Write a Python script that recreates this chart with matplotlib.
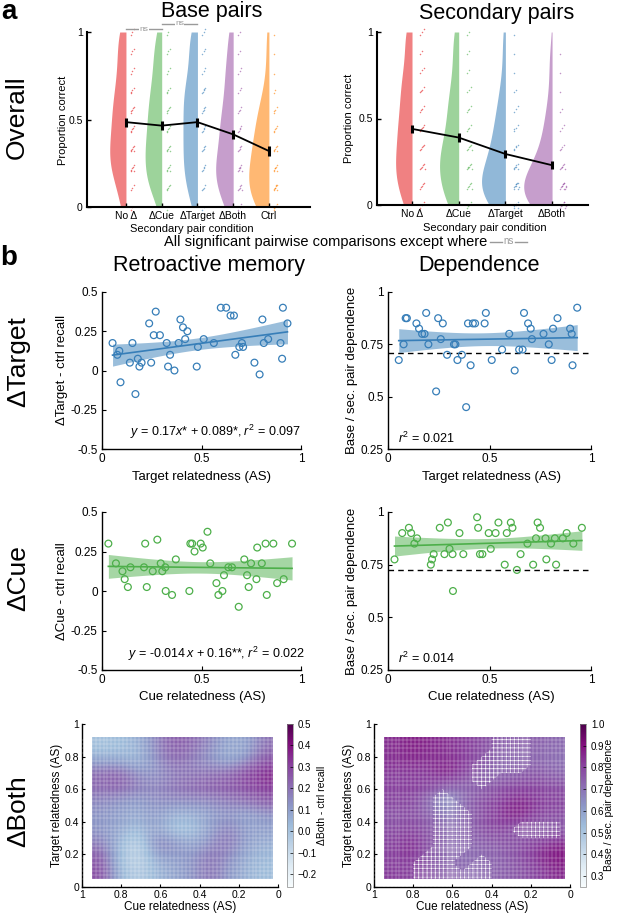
import numpy as np
import matplotlib
matplotlib.use("Agg")
import matplotlib.pyplot as plt
from matplotlib.lines import Line2D

plt.rcParams['font.family'] = ['Liberation Sans', 'DejaVu Sans']
plt.rcParams['mathtext.fontset'] = 'custom'
plt.rcParams['mathtext.rm'] = 'Liberation Sans'
plt.rcParams['mathtext.it'] = 'Liberation Sans:italic'
plt.rcParams['hatch.color'] = 'white'
plt.rcParams['hatch.linewidth'] = 0.4
plt.rcParams['xtick.direction'] = 'in'
plt.rcParams['ytick.direction'] = 'in'

# ---------------- datos panel a ----------------
# niveles de puntaje (novenos) y cantidad de sujetos en cada nivel
niveles = np.arange(10) / 9
base_cond = ['No Δ', 'ΔCue', 'ΔTarget', 'ΔBoth', 'Ctrl']
base_conteos = [[2, 3, 6, 6, 5, 5, 4, 3, 3, 3],
                [1, 5, 6, 6, 5, 5, 4, 3, 3, 2],
                [2, 4, 5, 5, 5, 5, 5, 3, 3, 3],
                [3, 6, 7, 5, 5, 4, 3, 3, 2, 2],
                [5, 8, 7, 6, 5, 4, 2, 1, 1, 1]]
base_media = [0.485, 0.465, 0.485, 0.415, 0.32]
base_sem = [0.026, 0.024, 0.026, 0.025, 0.026]

sec_cond = ['No Δ', 'ΔCue', 'ΔTarget', 'ΔBoth']
sec_conteos = [[3, 5, 6, 5, 5, 4, 4, 3, 2, 3],
               [4, 6, 7, 6, 4, 4, 3, 2, 2, 2],
               [6, 10, 7, 5, 4, 3, 2, 1, 1, 1],
               [9, 12, 7, 4, 3, 2, 1, 1, 1, 0]]
sec_media = [0.44, 0.39, 0.295, 0.23]
sec_sem = [0.025, 0.025, 0.024, 0.024]

colores = ['#e41a1c', '#4daf4a', '#377eb8', '#984ea3', '#ff7f00']

# ---------------- datos panel b ----------------
target_rel = [0.053, 0.077, 0.087, 0.093, 0.140, 0.153, 0.168, 0.180, 0.188, 0.199,
              0.237, 0.247, 0.260, 0.270, 0.291, 0.325, 0.332, 0.342, 0.364, 0.385,
              0.394, 0.407, 0.418, 0.429, 0.476, 0.482, 0.511, 0.562, 0.597, 0.624,
              0.646, 0.663, 0.670, 0.690, 0.703, 0.709, 0.766, 0.792, 0.806, 0.813,
              0.835, 0.897, 0.905, 0.909, 0.932]
tgt_recall = [0.175, 0.10, 0.125, -0.075, 0.05, 0.175, -0.15, 0.075, 0.025, 0.05,
              0.30, 0.05, 0.225, 0.375, 0.225, 0.175, 0.025, 0.10, 0.0, 0.175,
              0.325, 0.275, 0.20, 0.25, 0.025, 0.15, 0.20, 0.175, 0.40, 0.40,
              0.35, 0.35, 0.10, 0.15, 0.175, 0.15, 0.05, -0.025, 0.325, 0.175,
              0.20, 0.175, 0.075, 0.40, 0.30]
tgt_dep = [0.675, 0.75, 0.875, 0.875, 0.85, 0.825, 0.80, 0.80, 0.90, 0.75,
           0.525, 0.875, 0.775, 0.85, 0.70, 0.75, 0.75, 0.675, 0.70, 0.45,
           0.85, 0.65, 0.85, 0.85, 0.85, 0.90, 0.675, 0.725, 0.80, 0.625,
           0.725, 0.725, 0.90, 0.85, 0.825, 0.775, 0.80, 0.75, 0.675, 0.825,
           0.875, 0.825, 0.80, 0.65, 0.925]

cue_rel = [0.032, 0.070, 0.103, 0.114, 0.130, 0.143, 0.211, 0.217, 0.225, 0.255,
           0.278, 0.295, 0.303, 0.318, 0.320, 0.352, 0.371, 0.439, 0.444, 0.453,
           0.465, 0.496, 0.506, 0.530, 0.544, 0.575, 0.585, 0.605, 0.613, 0.635,
           0.653, 0.687, 0.715, 0.729, 0.737, 0.749, 0.776, 0.780, 0.803, 0.822,
           0.828, 0.861, 0.880, 0.913, 0.955]
cue_recall = [0.30, 0.175, 0.125, 0.075, 0.025, 0.15, 0.15, 0.30, 0.025, 0.125,
              0.325, 0.175, 0.125, 0.15, 0.0, -0.025, 0.20, 0.0, 0.30, 0.30,
              0.25, 0.30, 0.275, 0.375, 0.175, 0.05, -0.025, 0.0, 0.10, 0.15,
              0.15, -0.10, 0.20, 0.10, 0.025, 0.175, 0.075, 0.275, 0.175, 0.30,
              -0.025, 0.30, 0.05, 0.075, 0.30]
cue_dep = [0.775, 0.90, 0.925, 0.90, 0.85, 0.875, 0.75, 0.775, 0.80, 0.925,
           0.80, 0.95, 0.825, 0.80, 0.625, 0.90, 0.80, 0.975, 0.925, 0.80,
           0.80, 0.90, 0.825, 0.90, 0.95, 0.75, 0.90, 0.95, 0.925, 0.725,
           0.80, 0.85, 0.75, 0.875, 0.95, 0.925, 0.875, 0.775, 0.85, 0.875,
           0.75, 0.875, 0.90, 0.85, 0.925]
dep_base = [0.71, 0.725]  # linea punteada (dependencia esperada)

# ---------------- datos mapas ΔBoth ----------------
mapa_cue = [0.05, 0.15, 0.25, 0.35, 0.45, 0.55, 0.65, 0.75, 0.85, 0.95]
mapa_tgt = [0.05, 0.15, 0.25, 0.35, 0.45, 0.55, 0.65, 0.75, 0.85, 0.92]
both_recall = [
    [0.02, 0.05, 0.12, 0.20, 0.12, 0.08, 0.04, -0.05, 0.05, 0.28],
    [0.03, 0.06, 0.15, 0.20, 0.12, 0.10, 0.08, -0.10, 0.02, 0.26],
    [0.06, 0.10, 0.20, 0.15, 0.08, 0.15, 0.18, -0.08, 0.05, 0.18],
    [0.10, 0.10, 0.18, 0.10, 0.00, 0.00, 0.10, 0.02, 0.08, 0.12],
    [0.12, 0.08, 0.12, 0.10, 0.05, 0.05, 0.12, 0.06, 0.10, 0.12],
    [0.25, 0.20, 0.18, 0.15, 0.15, 0.15, 0.14, 0.10, 0.12, 0.15],
    [0.32, 0.28, 0.26, 0.25, 0.22, 0.20, 0.16, 0.18, 0.24, 0.22],
    [0.36, 0.30, 0.22, 0.20, 0.18, 0.18, 0.12, 0.14, 0.24, 0.22],
    [0.25, 0.10, 0.05, 0.12, 0.18, 0.22, 0.14, 0.02, 0.05, 0.06],
    [0.20, 0.08, 0.08, 0.16, 0.22, 0.25, 0.16, 0.05, 0.02, 0.00]]
both_dep = [
    [0.85, 0.80, 0.76, 0.74, 0.72, 0.72, 0.74, 0.76, 0.80, 0.82],
    [0.90, 0.84, 0.78, 0.74, 0.72, 0.70, 0.72, 0.74, 0.84, 0.80],
    [0.86, 0.82, 0.78, 0.76, 0.74, 0.72, 0.72, 0.76, 0.86, 0.80],
    [0.74, 0.72, 0.74, 0.80, 0.78, 0.72, 0.70, 0.76, 0.80, 0.78],
    [0.78, 0.80, 0.88, 0.84, 0.78, 0.72, 0.68, 0.74, 0.78, 0.76],
    [0.80, 0.82, 0.86, 0.82, 0.78, 0.74, 0.58, 0.70, 0.80, 0.80],
    [0.78, 0.80, 0.80, 0.78, 0.74, 0.72, 0.74, 0.80, 0.82, 0.80],
    [0.72, 0.76, 0.74, 0.72, 0.72, 0.80, 0.88, 0.82, 0.82, 0.82],
    [0.70, 0.72, 0.72, 0.72, 0.76, 0.82, 0.84, 0.84, 0.86, 0.84],
    [0.72, 0.74, 0.74, 0.74, 0.78, 0.82, 0.84, 0.86, 0.88, 0.84]]
# 1 = zona no significativa (rayada)
both_ns = [
    [0, 0, 0, 0, 1, 1, 1, 1, 0, 0],
    [0, 0, 0, 0, 1, 0, 1, 1, 0, 0],
    [0, 0, 0, 0, 0, 1, 1, 0, 0, 0],
    [1, 1, 1, 0, 0, 1, 1, 0, 0, 0],
    [0, 0, 0, 0, 0, 1, 1, 0, 0, 0],
    [0, 0, 0, 0, 0, 0, 1, 0, 0, 0],
    [0, 0, 0, 0, 1, 0, 0, 0, 0, 0],
    [0, 0, 1, 1, 1, 0, 0, 0, 0, 0],
    [0, 0, 1, 1, 0, 0, 0, 0, 0, 0],
    [0, 0, 1, 1, 0, 0, 0, 0, 0, 0]]

W, H = 617, 916
fig = plt.figure(figsize=(W / 100, H / 100), dpi=100)


def caja(x0, y0, x1, y1):
    """ rectangulo en pixeles -> fraccion de figura """
    return [x0 / W, 1 - y1 / H, (x1 - x0) / W, (y1 - y0) / H]


def texto(px, py, s, **kw):
    kw.setdefault('ha', 'center')
    kw.setdefault('va', 'center')
    return fig.text(px / W, 1 - py / H, s, **kw)


def estilo(ax, lw=1.0):
    for lado in ['top', 'right']:
        ax.spines[lado].set_visible(False)
    for lado in ['left', 'bottom']:
        ax.spines[lado].set_linewidth(lw)


def violines(ax, nombres, conteos, medias, sems, escala, dx):
    yy = np.linspace(0, 1, 201)
    bw = 0.1
    for i, c in enumerate(conteos):
        pos = i + 1
        dens = np.zeros_like(yy)
        for nivel, n in zip(niveles, c):
            dens += n * np.exp(-0.5 * ((yy - nivel) / bw) ** 2)
        dens /= sum(c) * bw * np.sqrt(2 * np.pi)
        ax.fill_betweenx(yy, pos - escala * dens, pos, color=colores[i],
                         alpha=0.55, lw=0)
        # puntos de cada sujeto a la derecha
        px, py = [], []
        for nivel, n in zip(niveles, c):
            for j in range(n):
                px.append(pos + dx + 0.04 * (j % 3) + 0.015 * (j // 3))
                py.append(nivel + 0.008 * ((j * 7) % 5 - 2))
        ax.plot(px, py, '.', color=colores[i], ms=2.2, mew=0, alpha=0.6,
                clip_on=False)
    pos = np.arange(1, len(conteos) + 1)
    ax.errorbar(pos, medias, yerr=sems, color='k', lw=1.3, elinewidth=2.2,
                capsize=0, zorder=5)
    ax.set_xticks(pos)
    ax.set_xticklabels(nombres, fontsize=7.5)
    ax.set_ylim(0, 1)
    ax.set_yticks([0, 0.5, 1])
    ax.set_yticklabels(['0', '0.5', '1'], fontsize=7.5)
    ax.tick_params(length=3, width=1, pad=3)
    estilo(ax, 1.5)


def banda(x, y):
    n = len(x)
    b, a = np.polyfit(x, y, 1)
    xs = np.linspace(x.min(), x.max(), 60)
    yhat = a + b * xs
    s = np.sqrt(np.sum((y - (a + b * x)) ** 2) / (n - 2))
    se = s * np.sqrt(1 / n + (xs - x.mean()) ** 2 / np.sum((x - x.mean()) ** 2))
    return xs, yhat, yhat - 2.017 * se, yhat + 2.017 * se


def disperso(ax, x, y, color, yl, yt, ytl):
    x = np.asarray(x)
    y = np.asarray(y)
    xs, yhat, lo, hi = banda(x, y)
    ax.scatter(x, y, s=24, facecolors='none', edgecolors=color, linewidths=0.9,
               zorder=3)
    ax.fill_between(xs, lo, hi, color=color, alpha=0.5, lw=0, zorder=2)
    ax.plot(xs, yhat, color=color, lw=1.2, zorder=4)
    ax.set_xlim(0, 1)
    ax.set_ylim(*yl)
    ax.set_xticks([0, 0.5, 1])
    ax.set_xticklabels(['0', '0.5', '1'], fontsize=8.5)
    ax.set_yticks(yt)
    ax.set_yticklabels(ytl, fontsize=8.5)
    ax.tick_params(length=3, width=0.8, pad=3)
    estilo(ax, 1.0)


# ================= panel a =================
ax1 = fig.add_axes(caja(87, 32, 310, 207))
violines(ax1, base_cond, base_conteos, base_media, base_sem, 0.36, 0.14)
ax1.set_xlim(-0.09, 6.15)
gris = '#9a9a9a'
for (p1, p2), yb in zip([(1, 2), (2, 3)], [1.016, 1.046]):
    ax1.plot([p1, p2], [yb, yb], color=gris, lw=1, clip_on=False)
    ax1.text((p1 + p2) / 2, yb, 'ns', color=gris, fontsize=6, ha='center',
             va='center', clip_on=False,
             bbox=dict(facecolor='white', edgecolor='none', pad=0.3))

ax2 = fig.add_axes(caja(377, 32, 588, 205))
violines(ax2, sec_cond, sec_conteos, sec_media, sec_sem, 0.29, 0.18)
ax2.set_xlim(0.25, 4.77)

texto(9, 12, 'a', fontsize=20, fontweight='bold')
texto(212, 11, 'Base pairs', fontsize=15.5)
texto(497, 14, 'Secondary pairs', fontsize=15.5)
texto(17, 117, 'Overall', fontsize=19, rotation=90)
texto(63, 120, 'Proportion correct', fontsize=8, rotation=90)
texto(349, 118, 'Proportion correct', fontsize=8, rotation=90)
texto(192, 229, 'Secondary pair condition', fontsize=8)
texto(485, 228, 'Secondary pair condition', fontsize=8)
texto(487, 242, 'All significant pairwise comparisons except where',
      fontsize=10.5, ha='right')
for xa, xb in [(490, 502), (515, 527)]:
    fig.add_artist(Line2D([xa / W, xb / W], [1 - 242 / H] * 2, color=gris,
                          lw=1, transform=fig.transFigure))
texto(508.5, 241, 'ns', fontsize=7, color=gris)

# ================= panel b =================
azul, verde = colores[2], colores[1]
ax3 = fig.add_axes(caja(102, 292, 301, 449))
disperso(ax3, target_rel, tgt_recall, azul, (-0.5, 0.5),
         [-0.5, -0.25, 0, 0.25, 0.5], ['-0.5', '-0.25', '0', '0.25', '0.5'])
ax3.text(1.0, -0.39, r'$y$ = 0.17$x$* + 0.089*, $r^{2}$ = 0.097', fontsize=9,
         ha='right', va='center')

ax4 = fig.add_axes(caja(388, 292, 591, 449))
disperso(ax4, target_rel, tgt_dep, azul, (0.25, 1),
         [0.25, 0.5, 0.75, 1], ['0.25', '0.5', '0.75', '1'])
ax4.axhline(dep_base[0], color='k', ls='--', lw=1, dashes=(4, 3), zorder=1)
ax4.text(0.05, 0.30, r'$r^{2}$ = 0.021', fontsize=9, ha='left', va='center')

ax5 = fig.add_axes(caja(102, 512, 301, 670))
disperso(ax5, cue_rel, cue_recall, verde, (-0.5, 0.5),
         [-0.5, -0.25, 0, 0.25, 0.5], ['-0.5', '-0.25', '0', '0.25', '0.5'])
ax5.text(1.02, -0.40, r'$y$ = -0.014$\,x$ + 0.16**, $r^{2}$ = 0.022', fontsize=9,
         ha='right', va='center')

ax6 = fig.add_axes(caja(388, 512, 591, 670))
disperso(ax6, cue_rel, cue_dep, verde, (0.25, 1),
         [0.25, 0.5, 0.75, 1], ['0.25', '0.5', '0.75', '1'])
ax6.axhline(dep_base[1], color='k', ls='--', lw=1, dashes=(4, 3), zorder=1)
ax6.text(0.05, 0.305, r'$r^{2}$ = 0.014', fontsize=9, ha='left', va='center')

texto(9, 258, 'b', fontsize=20, fontweight='bold')
texto(209, 265, 'Retroactive memory', fontsize=15.5)
texto(479, 265, 'Dependence', fontsize=15.5)
texto(18, 362, 'ΔTarget', fontsize=19, rotation=90)
texto(18, 578, 'ΔCue', fontsize=19, rotation=90)
texto(18, 811, 'ΔBoth', fontsize=19, rotation=90)
texto(62, 370, 'ΔTarget - ctrl recall', fontsize=9.5, rotation=90)
texto(352, 370, 'Base / sec. pair dependence', fontsize=9.5, rotation=90)
texto(62, 591, 'ΔCue - ctrl recall', fontsize=9.5, rotation=90)
texto(352, 591, 'Base / sec. pair dependence', fontsize=9.5, rotation=90)
texto(202, 477, 'Target relatedness (AS)', fontsize=9.5)
texto(491, 477, 'Target relatedness (AS)', fontsize=9.5)
texto(202, 697, 'Cue relatedness (AS)', fontsize=9.5)
texto(491, 697, 'Cue relatedness (AS)', fontsize=9.5)


# ================= mapas ΔBoth =================
def mapa(caja_ax, caja_cb, valores, vmin, vmax, cb_ticks, rayas=None):
    ax = fig.add_axes(caja_ax)
    im = ax.imshow(np.array(valores), origin='lower', aspect='auto',
                   extent=(0.03, 0.95, 0.05, 0.92), cmap='BuPu', vmin=vmin,
                   vmax=vmax, interpolation='bicubic')
    if rayas is not None:
        ax.contourf(mapa_cue, mapa_tgt, np.array(rayas), levels=[0.5, 1.5],
                    colors='none', hatches=['++++'])
    ax.set_xlim(1, 0)
    ax.set_ylim(0, 1)
    ax.set_xticks([1, 0.8, 0.6, 0.4, 0.2, 0])
    ax.set_xticklabels(['1', '0.8', '0.6', '0.4', '0.2', '0'], fontsize=7.5)
    ax.set_yticks([0, 0.2, 0.4, 0.6, 0.8, 1])
    ax.set_yticklabels(['0', '0.2', '0.4', '0.6', '0.8', '1'], fontsize=7.5)
    ax.set_xticks(np.arange(0.03, 0.951, 0.02), minor=True)
    ax.set_yticks(np.arange(0.05, 0.921, 0.025), minor=True)
    ax.tick_params(which='minor', length=0)
    ax.tick_params(which='major', length=2.5, width=0.8, pad=2)
    ax.grid(which='minor', color='white', lw=0.35, alpha=0.55)
    ax.set_axisbelow(False)
    ax.set_xlabel('Cue relatedness (AS)', fontsize=8.5, labelpad=1)
    ax.set_ylabel('Target relatedness (AS)', fontsize=8.5, labelpad=1)
    estilo(ax, 1.0)
    cax = fig.add_axes(caja_cb)
    cb = fig.colorbar(im, cax=cax, ticks=cb_ticks)
    cb.ax.tick_params(labelsize=7, length=2, width=0.5, direction='in')
    cb.outline.set_linewidth(0.5)
    cb.outline.set_edgecolor('#888888')
    return ax


mapa(caja(82, 724, 278, 887), caja(287, 724, 293, 887), both_recall, -0.26, 0.5,
     [-0.2, -0.1, 0, 0.1, 0.2, 0.3, 0.4, 0.5])
mapa(caja(374, 724, 570, 887), caja(580, 724, 586, 887), both_dep, 0.25, 1.0,
     [0.3, 0.4, 0.5, 0.6, 0.7, 0.8, 0.9, 1], rayas=both_ns)
texto(322, 805, 'ΔBoth - ctrl recall', fontsize=7.5, rotation=90)
texto(609, 805, 'Base / sec. pair dependence', fontsize=7.5, rotation=90)

fig.savefig('out.png', dpi=100)
